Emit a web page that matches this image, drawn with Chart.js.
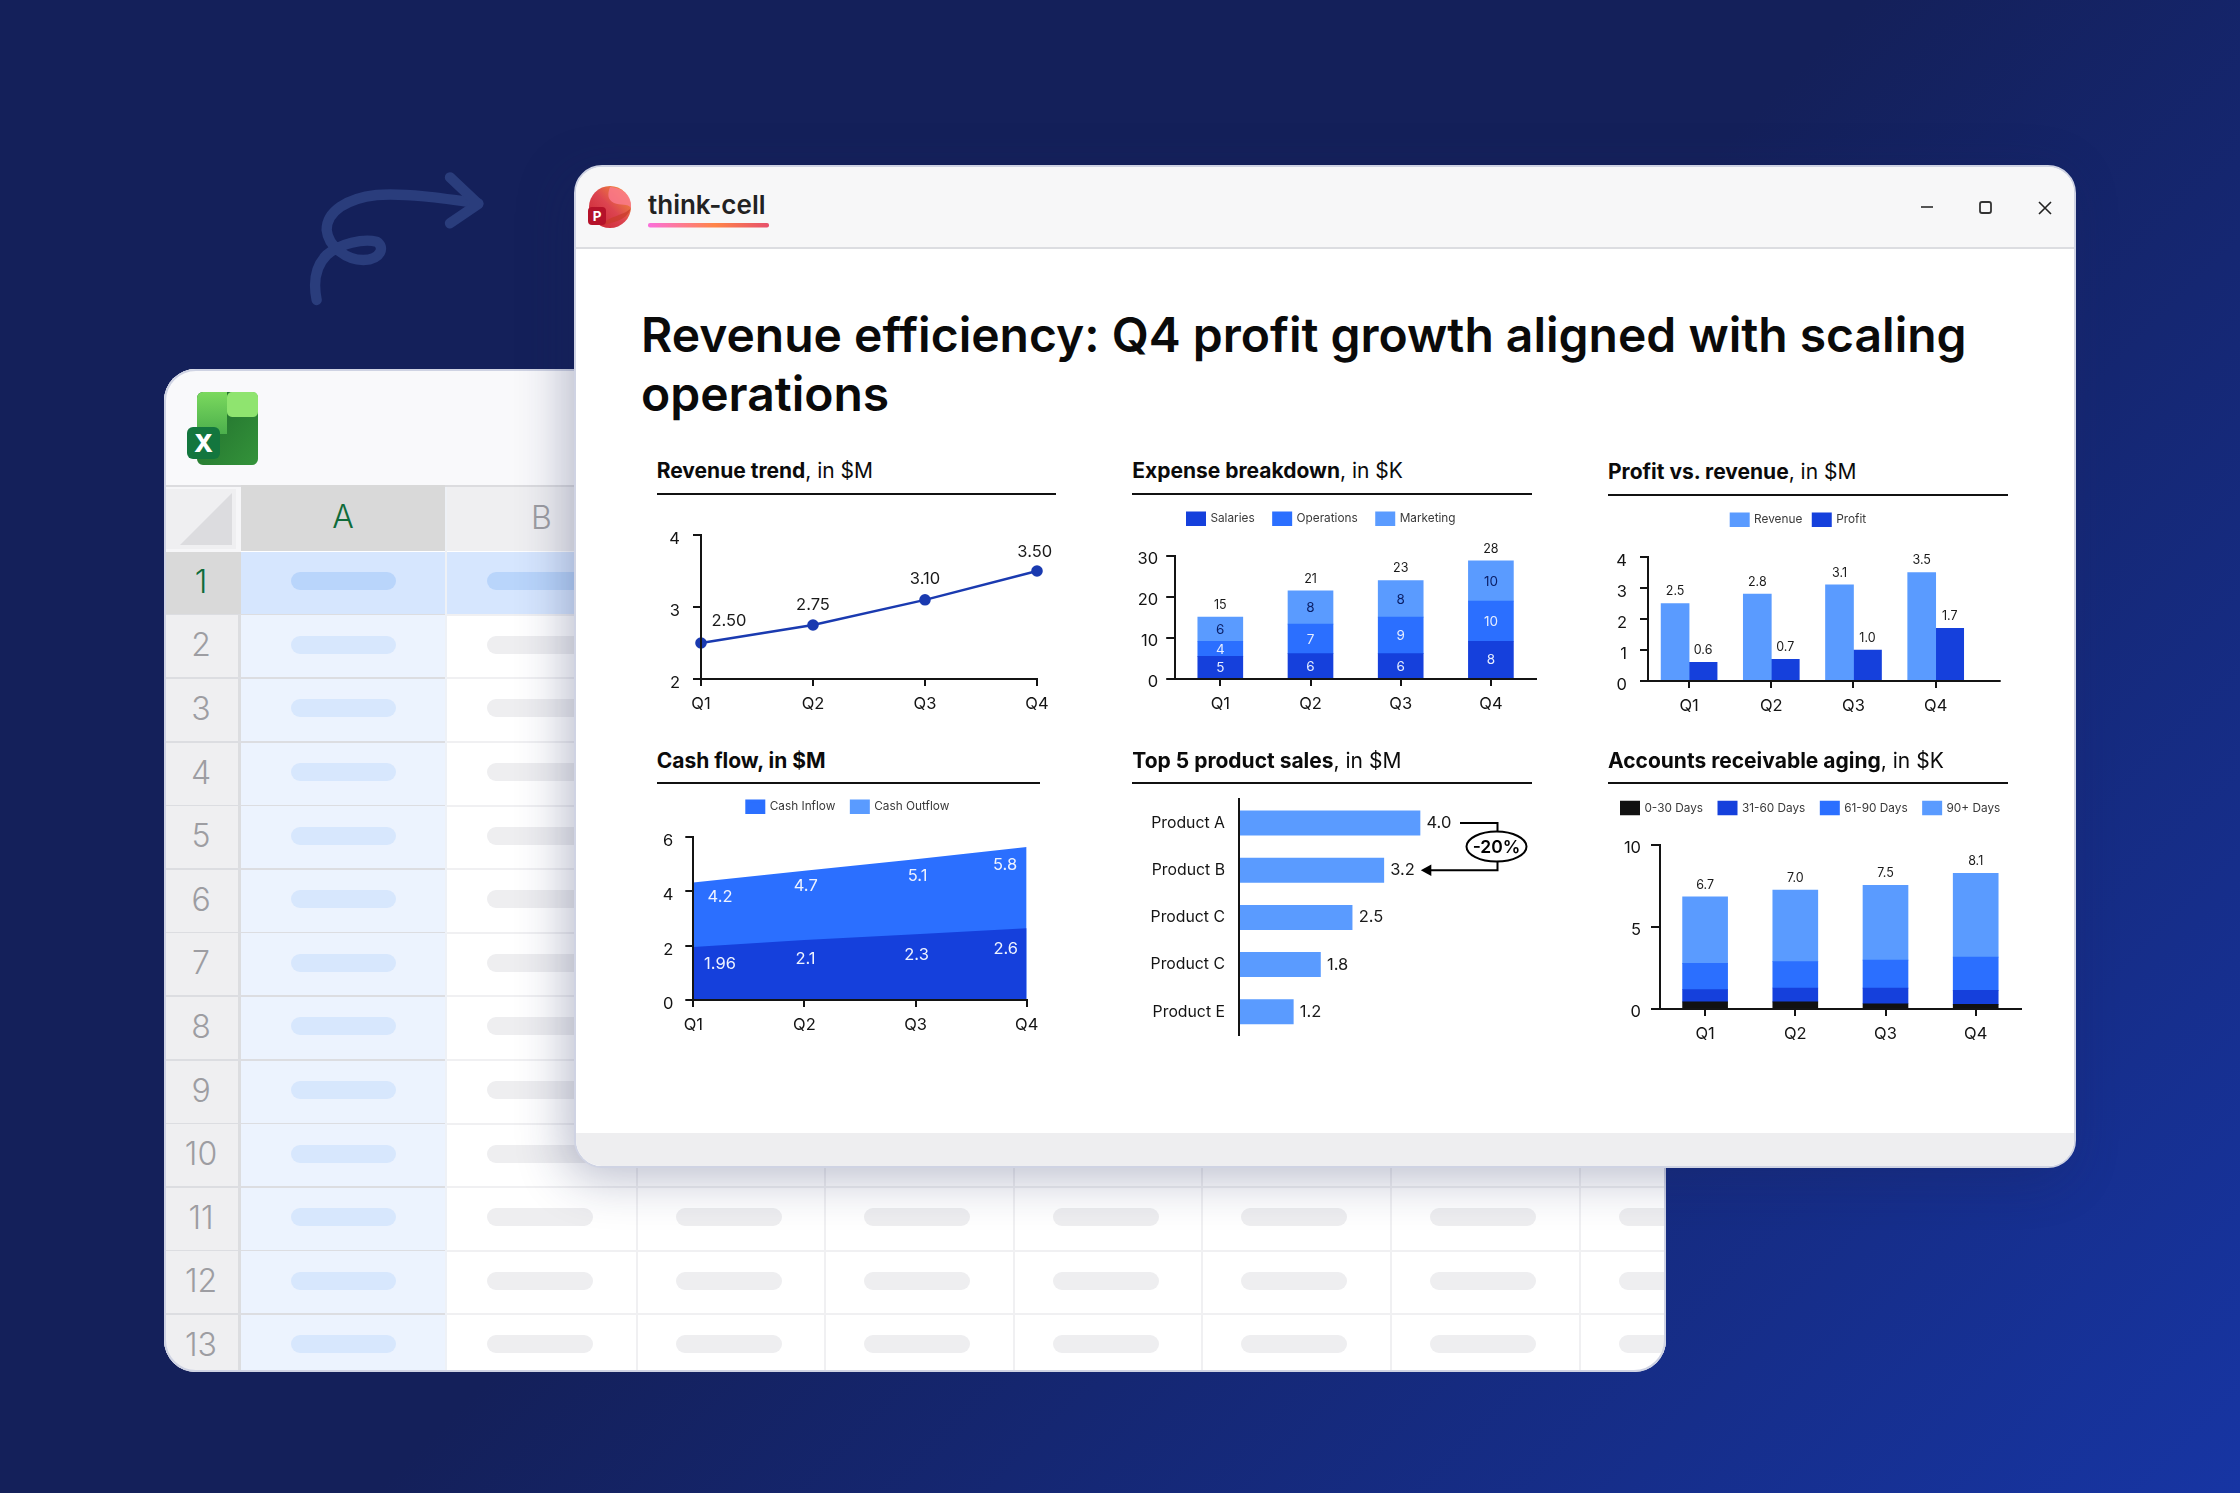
<!DOCTYPE html>
<html><head><meta charset="utf-8">
<script src="https://cdn.jsdelivr.net/npm/chart.js@4"></script>
<style>
html,body{margin:0;padding:0;width:2240px;height:1493px;overflow:hidden;background:#15205c}
body{position:relative;font-family:Inter,sans-serif;background:linear-gradient(135deg,#14205a 0%,#14205a 50%,#1735a3 100%)}
.abs,canvas{position:absolute}
#excel{position:absolute;left:0;top:0;width:2240px;height:1493px;clip-path:inset(369px 574px 121px 164px round 32px);background:#fff}
.ptitle{position:absolute;font-size:21px;line-height:1;white-space:nowrap;color:#0b0b0b;font-weight:400}
.ptitle b{font-weight:700}
.rule{position:absolute;height:2px;background:#111}
</style></head><body>
<svg class="abs" style="left:0;top:0" width="2240" height="1493">
<path transform="translate(150,140) scale(.3333)" d="M500 480C490 430 495 380 530 345C570 310 640 295 680 305C705 320 695 358 640 360C590 360 535 320 530 270C530 215 590 175 680 165C760 158 880 175 985 190" fill="none" stroke="#2a3d7c" stroke-width="31" stroke-linecap="round" stroke-linejoin="round"/>
<path transform="translate(150,140) scale(.3333)" d="M900 112L985 192L900 250" fill="none" stroke="#2a3d7c" stroke-width="31" stroke-linecap="round" stroke-linejoin="round"/>
</svg>
<div id="excel"></div>
<div class="abs" style="left:164px;top:369px;width:1498px;height:999px;border:2px solid #cfd3e3;border-radius:32px"></div>
<div id="ppt" class="abs" style="left:574px;top:165px;width:1502px;height:1003px;background:#fff;border-radius:28px;box-shadow:-8px 10px 50px rgba(25,35,90,.30);overflow:hidden;box-sizing:border-box;border:2px solid #cfd3e3">
 <div class="abs" style="left:0;top:0;width:100%;height:80px;background:#f7f7f8;border-bottom:2px solid #dcdde1"></div>
 <div class="abs" style="left:0;top:966px;width:100%;height:36px;background:#eeeef0"></div>
</div>
<svg class="abs" style="left:0;top:0" width="2240" height="1493">
 <defs>
  <linearGradient id="pg" x1="0" y1="1" x2="1" y2="0"><stop offset="0" stop-color="#c8222f"/><stop offset=".5" stop-color="#dc4450"/><stop offset="1" stop-color="#f7a030"/></linearGradient>
  <linearGradient id="xg" x1="0" y1="0" x2="1" y2="1"><stop offset="0" stop-color="#1f6b2c"/><stop offset="1" stop-color="#34933a"/></linearGradient>
  <linearGradient id="xg2" x1="0" y1="0" x2="0" y2="1"><stop offset="0" stop-color="#7bd95e"/><stop offset="1" stop-color="#4caf4c"/></linearGradient>
  <linearGradient id="ul" x1="0" y1="0" x2="1" y2="0"><stop offset="0" stop-color="#fb6fdc"/><stop offset=".55" stop-color="#ff8548"/><stop offset="1" stop-color="#e7506c"/></linearGradient>
 </defs>
 <circle cx="610" cy="207" r="21" fill="url(#pg)"/>
 <path d="M610 187C607 195 608 200 614 203C620 206 628 203 631 208C632 198 626 188 610 187Z" fill="#fb7a90" opacity=".8"/>
 <path d="M600 226C612 222 626 222 631 208C624 216 610 215 600 226Z" fill="#c93a2a" opacity=".7"/>
 <rect x="588" y="207" width="18" height="18" rx="4" fill="#b5122a"/>
 <text x="597" y="221" text-anchor="middle" font-family="Inter" font-weight="700" font-size="13.5" fill="#fff">P</text>
 <text x="648" y="214" font-family="Inter" font-weight="600" font-size="26" fill="#222">think-cell</text>
 <rect x="648" y="223" width="121" height="4.5" rx="2" fill="url(#ul)"/>
 <rect x="1921" y="206" width="12" height="2" fill="#555"/>
 <rect x="1980" y="202" width="11" height="11" rx="2" fill="none" stroke="#333" stroke-width="1.8"/>
 <path d="M2039 202L2051 214M2051 202L2039 214" stroke="#222" stroke-width="1.6"/>
 <rect x="197" y="392" width="61" height="73" rx="6" fill="url(#xg)"/>
 <path d="M197 398a6 6 0 0 1 6-6h24v42h-30Z" fill="url(#xg2)"/>
 <rect x="227" y="392" width="31" height="25" rx="5" fill="#8fe46f"/>
 <rect x="187" y="427" width="33" height="32" rx="6" fill="#13763e"/>
 <text x="203.500" y="452" text-anchor="middle" font-family="Inter" font-weight="800" font-size="25" fill="#fff">X</text>
</svg>
<div class="abs" id="headline" style="left:641px;top:306px;width:1400px;font-size:48px;line-height:58.600px;font-weight:600;color:#0a0a0a">Revenue efficiency: Q4 profit growth aligned with scaling<br>operations</div>
<div id="charts"></div>
<script>
// ---------- data ----------
const quarters = ['Q1','Q2','Q3','Q4'];
const revenueTrend = [2.5,2.75,3.1,3.5];
const revenueTrendLabels = ['2.50','2.75','3.10','3.50'];

const salaries = [5.5,6.2,6.2,9.2];
const operations = [3.7,7.2,8.9,9.8];
const marketing = [5.9,8.1,8.9,9.8];
const salariesLabels = ['5','6','6','8'];
const operationsLabels = ['4','7','9','10'];
const marketingLabels = ['6','8','8','10'];
const expenseTotals = ['15','21','23','28'];

const revenue = [2.5,2.8,3.1,3.5];
const profit = [0.6,0.7,1.0,1.7];

const cashUpper = [4.32,4.75,5.17,5.62];
const cashLower = [1.95,2.2,2.42,2.64];
const cashUpperLabels = ['4.2','4.7','5.1','5.8'];
const cashLowerLabels = ['1.96','2.1','2.3','2.6'];

const products = ['Product A','Product B','Product C','Product C','Product E'];
const productSales = [4.0,3.2,2.5,1.8,1.2];
const changeLabel = '-20%';

const days0to30 = [0.43,0.43,0.32,0.28];
const days31to60 = [0.75,0.85,0.95,0.85];
const days61to90 = [1.6,1.6,1.7,2.03];
const days90plus = [4.04,4.36,4.56,5.09];
const agingTotals = ['6.7','7.0','7.5','8.1'];

const panelTitles = [
 ['Revenue trend',', in $M'],['Expense breakdown',', in $K'],['Profit vs. revenue',', in $M'],
 ['Cash flow, in $M',''],['Top 5 product sales',', in $M'],['Accounts receivable aging',', in $K']];
const rowNumbers = [1,2,3,4,5,6,7,8,9,10,11,12,13];

// ---------- colours ----------
const DARK='#1540dc', MID='#2b6fff', LIGHT='#5a9bff', BLACK='#111111', LINE='#1a3ab0', INK='#141414';

// ---------- spreadsheet backdrop ----------
const ex=document.getElementById('excel');
function box(x,y,w,h,css,txt){const d=document.createElement('div');d.className='abs';d.style.cssText=`left:${x}px;top:${y}px;width:${w}px;height:${h}px;${css||''}`;if(txt!==undefined)d.textContent=txt;ex.appendChild(d);return d;}
box(164,369,1502,116,'background:#f9f9fb');
box(164,485,1502,2,'background:#dcdcdf');
box(164,487,77,65,'background:#f6f6f8');
box(166,489,70,60,'background:#efeff1');
box(180,493,52,52,'background:#dcdcdf;clip-path:polygon(0 100%,100% 100%,100% 0)');
const hdr='font-size:32px;text-align:center;font-weight:300;';
box(241,485,204,66,'background:#d9d9d9;color:#0f6b3a;line-height:64px;'+hdr,'A');
box(447,487,189,64,'background:#efeff1;color:#9d9da2;line-height:62px;'+hdr,'B');
const colX=[635.7,824.3,1012.9,1201.4,1390,1578.6];
rowNumbers.forEach((n,i)=>{
 const y=551.7+i*63.6, first=i===0;
 box(164,y,74,62,`background:${first?'#d9d9d9':'#efeff1'};color:${first?'#0f6b3a':'#9d9da2'};font-size:32px;line-height:60px;text-align:center;font-weight:300`,String(n));
 box(238,y,3,62,`background:${first?'#d9d9d9':'#dcdde0'}`);
 box(241,y,204,62,`background:${first?'#d6e6fe':'#ecf3fe'}`);
 box(290.500,y+20.500,105,18,`border-radius:9px;background:${first?'#b9d5fb':'#d7e7fd'}`);
 if(first) box(447,y,1219,62,'background:#d6e6fe');
 box(164,y+62,281,2,'background:#dcdde1');
 box(445,y+62,1221,2,'background:#f0f0f2');
 [447,...colX].forEach(c=>{box(c+40,y+20.500,106,18,`border-radius:9px;background:${first?'#b9d5fb':'#eeeef0'}`);});
});
box(445,487,2,950,'background:#eef1f6');
colX.forEach(c=>box(c,487,2,900,'background:#f0f0f2'));

// ---------- panel titles ----------
const panelGeom=[[656.7,478.5,1056,492.500],[1132.3,478.5,1531.7,492.500],[1608,479.5,2007.7,493.500],[656.7,768,1040.3,782],[1132.3,768,1531.7,782],[1608,768,2007.7,782]];
panelGeom.forEach((g,i)=>{
 const t=document.createElement('div');t.className='ptitle';
 t.style.left=g[0]+'px';t.style.top=(g[1]-21*.864)+'px';
 const b=document.createElement('b');b.textContent=panelTitles[i][0];t.appendChild(b);
 t.appendChild(document.createTextNode(panelTitles[i][1]));document.body.appendChild(t);
 const r=document.createElement('div');r.className='rule';r.style.cssText=`left:${g[0]}px;top:${g[3]}px;width:${g[2]-g[0]}px`;document.body.appendChild(r);
});

// ---------- Chart.js helpers ----------
Chart.defaults.font.family='Inter';
Chart.defaults.color=INK;
const LEGF=11.8;
function labelsPlugin(items){return {id:'valueLabels',afterDatasetsDraw(chart){
 const c=chart.ctx;c.save();c.textAlign='center';c.textBaseline='middle';
 items.forEach(it=>{
  const els=chart.getDatasetMeta(it.ds).data;
  it.texts.forEach((t,i)=>{
   const e=els[i];let x=e.x,y=e.y;
   if(it.mode==='center')y=(e.y+e.base)/2;
   c.textAlign=it.mode==='end'?'left':'center';
   c.font=it.font;c.fillStyle=it.color;
   c.fillText(t,x+(it.dx?it.dx[i]:0),y+(it.dy?it.dy[i]:0));
  });
 });
 c.restore();
}};}
function legendPlugin(L,T,P){return {id:'legendPlace',afterLayout(chart){
 const g=chart.legend;g.left=L+1.5-P;g.top=T+2.8-P;g.right=chart.width+2000;
}};}
function axisStub(toPx){return {id:'axisStub',afterDraw(chart){
 const c=chart.ctx,a=chart.chartArea;c.save();c.strokeStyle=INK;c.lineWidth=2;c.beginPath();
 c.moveTo(a.right,a.bottom);c.lineTo(toPx,a.bottom);c.stroke();c.restore();
}};}
function legendOpts(names,colors,P){return {display:true,position:'top',align:'start',labels:{boxWidth:17,boxHeight:11.5,padding:P,color:'#3a3a3a',font:{size:LEGF},
 generateLabels:()=>names.map((n,i)=>({text:n,fillStyle:colors[i],strokeStyle:colors[i],lineWidth:3,hidden:false,datasetIndex:i,fontColor:'#3a3a3a'}))}};}
function yAxis(o){return {min:o.min,max:o.max,stacked:!!o.stacked,afterFit:s=>{s.width=o.width;},
 ticks:{stepSize:o.step,padding:o.pad,labelOffset:o.off,color:INK,font:{size:16.5}},
 grid:{drawOnChartArea:false,color:INK,lineWidth:2,tickLength:o.tick||8},border:{color:INK,width:2,z:1}};}
function xAxis(o){return {stacked:!!o.stacked,afterFit:s=>{s.height=o.height||44;},offset:o.offset,
 ticks:{padding:o.pad||8.5,color:INK,font:{size:16.5},autoSkip:false,maxRotation:0},
 grid:{drawOnChartArea:false,offset:false,color:INK,lineWidth:2,tickLength:7},border:{color:INK,width:2,z:1}};}
function make(p,cfg){
 // p: plot rectangle in page pixels; cv: canvas rectangle in page pixels
 const cv=p.cv,cvs=document.createElement('canvas');
 cvs.style.left=cv.l+'px';cvs.style.top=cv.t+'px';document.getElementById('charts').appendChild(cvs);
 cvs.width=cv.r-cv.l;cvs.height=cv.b-cv.t;
 const legH=p.legP!==undefined?LEGF+p.legP+10:0;
 cfg.options=Object.assign({responsive:false,animation:false,devicePixelRatio:1,
  layout:{autoPadding:false,padding:{left:0,top:p.t-cv.t-legH,right:cv.r-p.r,bottom:cv.b-p.b-(p.xH||0)}}},cfg.options);
 cfg.plugins=(cfg.plugins||[]);
 return new Chart(cvs,cfg);
}
const NOTIP={enabled:false};
const LBL='400 16.5px Inter',SML='400 12.5px Inter',SEG='400 13.5px Inter';

// Revenue trend
make({l:701,r:1037,t:535,b:679,xH:44,cv:{l:640,t:495,r:1064,b:723}},{type:'line',
 data:{labels:quarters,datasets:[{data:revenueTrend,borderColor:LINE,backgroundColor:LINE,borderWidth:2.4,pointRadius:4.6,tension:0,clip:false}]},
 options:{plugins:{legend:{display:false},tooltip:NOTIP},scales:{
  x:xAxis({offset:false}),y:yAxis({min:2,max:4,step:1,width:61,pad:13,off:4})}},
 plugins:[labelsPlugin([{ds:0,texts:revenueTrendLabels,font:LBL,color:'#1a1a1a',dx:[28,0,0,-2.3],dy:[-21.7,-20.3,-20.7,-19.3]}])]});

// Expense breakdown
make({l:1175.2,r:1536,t:556,b:679,xH:44,legP:19,cv:{l:1120,t:495,r:1560,b:723}},{type:'bar',
 data:{labels:quarters,datasets:[
  {data:salaries,backgroundColor:DARK,barThickness:45},
  {data:operations,backgroundColor:MID,barThickness:45},
  {data:marketing,backgroundColor:LIGHT,barThickness:45}]},
 options:{plugins:{legend:legendOpts(['Salaries','Operations','Marketing'],[DARK,MID,LIGHT],19),tooltip:NOTIP},scales:{
  x:xAxis({stacked:true,offset:true}),y:yAxis({min:0,max:30,step:10,width:55.2,pad:8,off:3.5,tick:9,stacked:true})}},
 plugins:[legendPlugin(1186-1120,510-495,19),labelsPlugin([
  {ds:0,texts:salariesLabels,mode:'center',font:SEG,color:'#e6edff',dy:[.7,.7,.7,.7]},
  {ds:1,texts:operationsLabels,mode:'center',font:SEG,color:'#e6edff',dy:[.7,.7,.7,.7]},
  {ds:2,texts:marketingLabels,mode:'center',font:SEG,color:'#0b1f66',dy:[.7,.7,.7,.7]},
  {ds:2,texts:expenseTotals,font:SML,color:'#1a1a1a',dy:[-12,-12,-12,-12]}])]});

// Profit vs revenue
make({l:1648,r:1976.8,t:557,b:681,xH:44,legP:11,cv:{l:1600,t:495,r:2020,b:725}},{type:'bar',
 data:{labels:quarters,datasets:[
  {data:revenue,backgroundColor:LIGHT,barThickness:28},
  {data:profit,backgroundColor:DARK,barThickness:28}]},
 options:{plugins:{legend:legendOpts(['Revenue','Profit'],[LIGHT,DARK],11),tooltip:NOTIP},scales:{
  x:xAxis({offset:true}),y:yAxis({min:0,max:4,step:1,width:48,pad:13,off:4.5})}},
 plugins:[legendPlugin(1729.7-1600,511-495,11),axisStub(2000.7-1600),labelsPlugin([
  {ds:0,texts:revenue.map(v=>v.toFixed(1)),font:SML,color:'#1a1a1a',dy:[-12,-12,-12,-12]},
  {ds:1,texts:profit.map(v=>v.toFixed(1)),font:SML,color:'#1a1a1a',dy:[-12,-12,-12,-12]}])]});

// Cash flow
make({l:693.3,r:1026.7,t:836.7,b:1000,xH:44,legP:16,cv:{l:640,t:785,r:1060,b:1044}},{type:'line',
 data:{labels:quarters,datasets:[
  {data:cashLower,fill:'origin',backgroundColor:DARK,borderWidth:0,pointRadius:0,tension:0},
  {data:cashUpper,fill:'origin',backgroundColor:MID,borderWidth:0,pointRadius:0,tension:0}]},
 options:{plugins:{legend:legendOpts(['Cash Inflow','Cash Outflow'],[MID,LIGHT],16),tooltip:NOTIP},scales:{
  x:xAxis({offset:false}),y:yAxis({min:0,max:6,step:2,width:53.3,pad:12,off:4})}},
 plugins:[legendPlugin(745.3-640,798-785,16),labelsPlugin([
  {ds:1,texts:cashUpperLabels,font:LBL,color:'#eef3ff',dx:[26.7,1.3,2,-21.7],dy:[14.3,15.3,16.3,18]},
  {ds:0,texts:cashLowerLabels,font:LBL,color:'#eef3ff',dx:[26.7,1,1,-21],dy:[16.7,19.3,21,21]}])]});

// Top 5 product sales
const changeBracket={id:'changeBracket',afterDatasetsDraw(chart){
 const c=chart.ctx,e=chart.getDatasetMeta(0).data,ya=e[0].y,yb=e[1].y;
 const xs=e[0].x+40,xv=e[0].x+77.5,xt=e[1].x+37;
 c.save();c.strokeStyle='#000';c.fillStyle='#000';c.lineWidth=2;
 c.beginPath();c.moveTo(xs,ya);c.lineTo(xv,ya);c.lineTo(xv,yb);c.lineTo(xt+8,yb);c.stroke();
 c.beginPath();c.moveTo(xt,yb);c.lineTo(xt+10.5,yb-5.7);c.lineTo(xt+10.5,yb+5.7);c.closePath();c.fill();
 const cy=(ya+yb)/2;
 c.beginPath();c.ellipse(xv-1,cy,30,15,0,0,Math.PI*2);c.fillStyle='#fff';c.fill();c.stroke();
 c.fillStyle='#000';c.font='600 17.5px Inter';c.textAlign='center';c.textBaseline='middle';c.fillText(changeLabel,xv-1,cy+.8);
 c.restore();
}};
make({l:1239,r:1528.6,t:799.4,b:1035.4,cv:{l:1130,t:765,r:1540,b:1070}},{type:'bar',
 data:{labels:products,datasets:[{data:productSales,backgroundColor:LIGHT,barThickness:24.3}]},
 options:{indexAxis:'y',plugins:{legend:{display:false},tooltip:NOTIP},scales:{
  x:{display:false,min:0,max:6.4},
  y:{afterFit:s=>{s.width=109;},grid:{display:false,drawTicks:false},border:{color:INK,width:2,z:1},ticks:{padding:14,color:INK,font:{size:15.8}}}}},
 plugins:[labelsPlugin([{ds:0,mode:'end',texts:productSales.map(v=>v.toFixed(1)),font:LBL,color:'#1a1a1a',dx:[6.5,6.5,6.5,6.5,6.5],dy:[0,0,0,0,0]}]),changeBracket]});

// Accounts receivable aging
make({l:1660,r:2020.8,t:844.7,b:1009,xH:44,legP:16,cv:{l:1560,t:785,r:2070,b:1053}},{type:'bar',
 data:{labels:quarters,datasets:[
  {data:days0to30,backgroundColor:BLACK,barThickness:45},
  {data:days31to60,backgroundColor:DARK,barThickness:45},
  {data:days61to90,backgroundColor:MID,barThickness:45},
  {data:days90plus,backgroundColor:LIGHT,barThickness:45}]},
 options:{plugins:{legend:legendOpts(['0-30 Days','31-60 Days','61-90 Days','90+ Days'],[BLACK,DARK,MID,LIGHT],16),tooltip:NOTIP},scales:{
  x:xAxis({stacked:true,offset:true}),y:yAxis({min:0,max:10,step:5,width:100,pad:10,off:3.5,tick:9,stacked:true})}},
 plugins:[legendPlugin(1620-1560,799.3-785,16),labelsPlugin([
  {ds:3,texts:agingTotals,font:SML,color:'#1a1a1a',dy:[-12,-12,-12,-12]}])]});
</script>
</body></html>
